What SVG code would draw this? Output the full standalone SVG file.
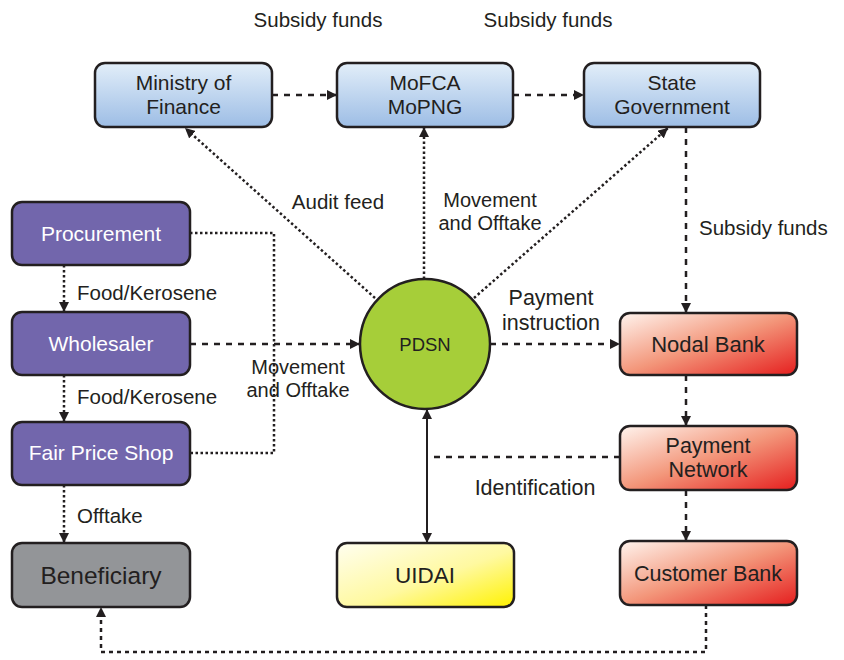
<svg xmlns="http://www.w3.org/2000/svg" width="844" height="660" viewBox="0 0 844 660">
<defs>
<linearGradient id="gBlue" x1="0" y1="0" x2="0" y2="1"><stop offset="0" stop-color="#e2eef9"/><stop offset="1" stop-color="#9dbde5"/></linearGradient>
<linearGradient id="gRed" x1="0" y1="0" x2="1" y2="1"><stop offset="0" stop-color="#fff4ee"/><stop offset="0.5" stop-color="#f3967a"/><stop offset="1" stop-color="#e51e1e"/></linearGradient>
<linearGradient id="gYellow" x1="0" y1="0" x2="1" y2="1"><stop offset="0" stop-color="#fffef0"/><stop offset="0.55" stop-color="#fff9a0"/><stop offset="1" stop-color="#fff200"/></linearGradient>
<marker id="ah" viewBox="0 0 10 10" refX="10" refY="5" markerWidth="10" markerHeight="10" markerUnits="userSpaceOnUse" orient="auto"><path d="M0,0 L10,5 L0,10 z" fill="#231f20"/></marker>
<marker id="ahs" viewBox="0 0 10 10" refX="0" refY="5" markerWidth="10" markerHeight="10" markerUnits="userSpaceOnUse" orient="auto"><path d="M10,0 L0,5 L10,10 z" fill="#231f20"/></marker>
<style>
.box{stroke:#231f20;stroke-width:2.5}
.t{font-family:"Liberation Sans",Arial,sans-serif;fill:#231f20;text-anchor:middle}
.nt{font-size:21px}
.lt{font-family:"Liberation Sans",Arial,sans-serif;fill:#231f20;font-size:20.5px}
.l2{font-size:20px}
.w{fill:#ffffff}
.dash{fill:none;stroke:#231f20;stroke-width:2.5;stroke-dasharray:6 6}
.dot{fill:none;stroke:#231f20;stroke-width:2.5;stroke-dasharray:2.5 2.5}
.sol{fill:none;stroke:#231f20;stroke-width:2}
</style>
</defs>
<rect width="844" height="660" fill="#ffffff"/>

<g id="connectors">
<path class="dash" d="M272,95 H337" marker-end="url(#ah)"/>
<path class="dash" d="M513,95 H584" marker-end="url(#ah)"/>
<path class="dash" d="M686,127 V313" marker-end="url(#ah)"/>
<path class="dash" d="M686,375 V426" marker-end="url(#ah)"/>
<path class="dash" d="M686,490 V541" marker-end="url(#ah)"/>
<path class="dot" d="M706,605 V652 H101 V607" marker-end="url(#ah)" style="stroke-dasharray:4 4"/>
<path class="dot" d="M64,265 V312" marker-end="url(#ah)"/>
<path class="dot" d="M64,375 V422" marker-end="url(#ah)"/>
<path class="dot" d="M64,485 V543" marker-end="url(#ah)"/>
<path class="dot" d="M190,233 H274 V453 H190"/>
<path class="dash" d="M190,344 H360" marker-end="url(#ah)"/>
<path class="dot" d="M375,298 L185,128" marker-end="url(#ah)"/>
<path class="dot" d="M424,279 V127" marker-end="url(#ah)"/>
<path class="dot" d="M474,298 L668,128" marker-end="url(#ah)"/>
<path class="dash" d="M490,344 H620" marker-end="url(#ah)"/>
<path class="sol" d="M427,409 V543" marker-start="url(#ahs)" marker-end="url(#ah)"/>
<path class="dash" d="M620,457 H427"/>
</g>

<g id="labels">
<text class="lt" x="318" y="27" text-anchor="middle">Subsidy funds</text>
<text class="lt" x="548" y="27" text-anchor="middle">Subsidy funds</text>
<text class="lt" x="699" y="235">Subsidy funds</text>
<text class="lt" x="77" y="300">Food/Kerosene</text>
<text class="lt" x="77" y="404">Food/Kerosene</text>
<text class="lt" x="77" y="523">Offtake</text>
<text class="lt" x="338" y="209" text-anchor="middle">Audit feed</text>
<text class="lt l2" x="490" y="207" text-anchor="middle">Movement</text>
<text class="lt l2" x="490" y="230" text-anchor="middle">and Offtake</text>
<text class="lt l2" x="298" y="374" text-anchor="middle">Movement</text>
<text class="lt l2" x="298" y="397" text-anchor="middle">and Offtake</text>
<text class="lt" x="551" y="305" text-anchor="middle" style="font-size:21.5px">Payment</text>
<text class="lt" x="551" y="330" text-anchor="middle" style="font-size:21.5px">instruction</text>
<text class="lt" x="535" y="495" text-anchor="middle" style="font-size:21.5px">Identification</text>
</g>

<g id="ministry-of-finance">
<rect class="box" x="95" y="63" width="177" height="64" rx="10" fill="url(#gBlue)"/>
<text class="t nt" x="183.5" y="90">Ministry of</text>
<text class="t nt" x="183.5" y="114">Finance</text>
</g>
<g id="mofca-mopng">
<rect class="box" x="337" y="63" width="176" height="64" rx="10" fill="url(#gBlue)"/>
<text class="t nt" x="425" y="90">MoFCA</text>
<text class="t nt" x="425" y="114">MoPNG</text>
</g>
<g id="state-government">
<rect class="box" x="584" y="63" width="176" height="64" rx="10" fill="url(#gBlue)"/>
<text class="t nt" x="672" y="90">State</text>
<text class="t nt" x="672" y="114">Government</text>
</g>

<g id="procurement">
<rect class="box" x="12" y="202" width="178" height="63" rx="10" fill="#7266ac"/>
<text class="t nt w" x="101" y="241">Procurement</text>
</g>
<g id="wholesaler">
<rect class="box" x="12" y="312" width="178" height="63" rx="10" fill="#7266ac"/>
<text class="t nt w" x="101" y="351">Wholesaler</text>
</g>
<g id="fair-price-shop">
<rect class="box" x="12" y="422" width="178" height="63" rx="10" fill="#7266ac"/>
<text class="t nt w" x="101" y="460">Fair Price Shop</text>
</g>
<g id="beneficiary">
<rect class="box" x="12" y="543" width="178" height="64" rx="10" fill="#939598"/>
<text class="t" x="101" y="584" style="font-size:24.5px">Beneficiary</text>
</g>

<g id="pdsn">
<circle class="box" cx="425" cy="344" r="65" fill="#a6ce39"/>
<text class="t" x="425" y="351" style="font-size:18.5px">PDSN</text>
</g>

<g id="uidai">
<rect class="box" x="337" y="543" width="177" height="64" rx="10" fill="url(#gYellow)"/>
<text class="t" x="425" y="583" style="font-size:22.5px">UIDAI</text>
</g>

<g id="nodal-bank">
<rect class="box" x="620" y="313" width="177" height="62" rx="10" fill="url(#gRed)"/>
<text class="t" x="708" y="352" style="font-size:22px">Nodal Bank</text>
</g>
<g id="payment-network">
<rect class="box" x="620" y="426" width="177" height="64" rx="10" fill="url(#gRed)"/>
<text class="t" x="708" y="453" style="font-size:21.5px">Payment</text>
<text class="t" x="708" y="477" style="font-size:21.5px">Network</text>
</g>
<g id="customer-bank">
<rect class="box" x="620" y="541" width="177" height="64" rx="10" fill="url(#gRed)"/>
<text class="t" x="708" y="581" style="font-size:21.5px">Customer Bank</text>
</g>
</svg>
